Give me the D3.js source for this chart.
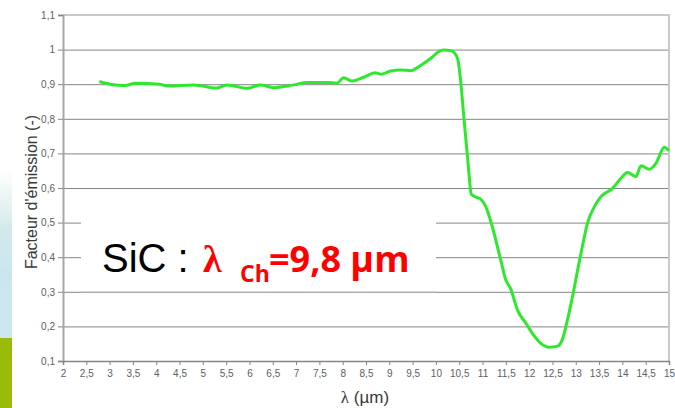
<!DOCTYPE html>
<html lang="fr">
<head>
  <meta charset="UTF-8">
  <title>SiC - facteur d'émission</title>
  <script src="https://cdn.jsdelivr.net/npm/d3@7/dist/d3.min.js"></script>
  <style>
    html, body { margin: 0; padding: 0; background: #fff; }
    svg { display: block; }
    .tick text { font-family: "Liberation Sans", Arial, sans-serif; font-size: 10px; fill: #606060; }
    .axis-title { font-family: "Liberation Sans", Arial, sans-serif; fill: #3a3a3a; }
  </style>
</head>
<body>
<svg width="675" height="408"></svg>
<script>
// courbe
const lambda = [2.78,3.01,3.33,3.55,4.08,4.23,4.80,5.30,5.52,5.95,6.23,6.52,6.95,7.24,7.67,7.88,8.02,8.20,8.45,8.70,8.81,9.03,9.24,9.46,9.67,9.89,10.10,10.17,10.32,10.40,10.47,10.53,10.60,10.69,10.76,10.89,10.96,11.07,11.21,11.39,11.50,11.60,11.75,11.93,12.07,12.25,12.43,12.61,12.71,12.82,12.93,13.04,13.14,13.25,13.40,13.54,13.79,13.97,14.11,14.29,14.40,14.58,14.72,14.90,15.0];
const emission = [0.908,0.900,0.896,0.903,0.900,0.895,0.898,0.889,0.898,0.888,0.898,0.890,0.898,0.905,0.905,0.903,0.919,0.909,0.920,0.933,0.929,0.938,0.941,0.939,0.954,0.975,0.997,0.999,0.997,0.990,0.972,0.910,0.803,0.671,0.582,0.572,0.568,0.546,0.488,0.392,0.334,0.310,0.247,0.209,0.180,0.151,0.140,0.143,0.161,0.218,0.286,0.363,0.430,0.498,0.546,0.575,0.599,0.628,0.645,0.633,0.664,0.654,0.671,0.718,0.708];

const xTicks = [2,2.5,3,3.5,4,4.5,5,5.5,6,6.5,7,7.5,8,8.5,9,9.5,10,10.5,11,11.5,12,12.5,13,13.5,14,14.5,15];
const xTickLabels = ["2","2,5","3","3,5","4","4,5","5","5,5","6","6,5","7","7,5","8","8,5","9","9,5","10","10,5","11","11,5","12","12,5","13","13,5","14","14,5","15"];
const yTicks = [0.1,0.2,0.3,0.4,0.5,0.6,0.7,0.8,0.9,1,1.1];
const yTickLabels = ["0,1","0,2","0,3","0,4","0,5","0,6","0,7","0,8","0,9","1","1,1"];

const svg = d3.select("svg");
const plotLeft = 63, plotRight = 669, plotTop = 15, plotBottom = 361;

const x = d3.scaleLinear().domain([2, 15]).range([plotLeft, plotRight]);
const y = d3.scaleLinear().domain([0.1, 1.1]).range([plotBottom, plotTop]);

// bandeau décoratif à gauche
const defs = svg.append("defs");
const grad = defs.append("linearGradient").attr("id", "bleu").attr("x1", 0).attr("y1", 0).attr("x2", 0).attr("y2", 1);
grad.append("stop").attr("offset", "0%").attr("stop-color", "#ffffff");
grad.append("stop").attr("offset", "35%").attr("stop-color", "#d4e9ea");
grad.append("stop").attr("offset", "60%").attr("stop-color", "#c9e6f0");
grad.append("stop").attr("offset", "100%").attr("stop-color", "#cde7f2");
svg.append("rect").attr("x", 0).attr("y", 170).attr("width", 12).attr("height", 168).attr("fill", "url(#bleu)");
svg.append("rect").attr("x", 0).attr("y", 338).attr("width", 12).attr("height", 70).attr("fill", "#9bbb0a");

// grille horizontale
svg.append("g")
  .attr("transform", `translate(${plotLeft},0)`)
  .call(d3.axisLeft(y).tickValues(yTicks.slice(0, -1)).tickSize(-(plotRight - plotLeft)).tickFormat(""))
  .call(g => g.select(".domain").remove())
  .call(g => g.selectAll(".tick line").attr("stroke", "#858585").attr("stroke-width", 1));

// cadre haut / droite
svg.append("path")
  .attr("d", `M${plotLeft},${y(1.1)}H${plotRight}V${plotBottom}`)
  .attr("fill", "none").attr("stroke", "#c9c9c9").attr("stroke-width", 2);

// axe Y
const yAxis = svg.append("g")
  .attr("transform", `translate(${plotLeft},0)`)
  .call(d3.axisLeft(y).tickValues(yTicks).tickSize(5).tickPadding(3)
    .tickFormat((d, i) => yTickLabels[i]));
yAxis.select(".domain").attr("stroke", "#a6a6a6").attr("stroke-width", 2);
yAxis.selectAll(".tick line").attr("stroke", "#858585");

// axe X
const xAxis = svg.append("g")
  .attr("transform", `translate(0,${plotBottom})`)
  .call(d3.axisBottom(x).tickValues(xTicks).tickSize(4).tickPadding(5)
    .tickFormat((d, i) => xTickLabels[i]));
xAxis.select(".domain").attr("stroke", "#858585").attr("stroke-width", 1.5);
xAxis.selectAll(".tick line").attr("stroke", "#858585");

// courbe
const pts = lambda.map((l, i) => [l, emission[i]]);
svg.append("path")
  .datum(pts)
  .attr("fill", "none")
  .attr("stroke", "#2ee82e")
  .attr("stroke-width", 3)
  .attr("stroke-linejoin", "round")
  .attr("d", d3.line().x(d => x(d[0])).y(d => y(d[1])).curve(d3.curveMonotoneX));

// titres des axes
svg.append("text")
  .attr("class", "axis-title")
  .attr("transform", "translate(37,192) rotate(-90)")
  .attr("text-anchor", "middle")
  .style("font-size", "16px")
  .text("Facteur d'émission (-)");

const xt = svg.append("text")
  .attr("class", "axis-title")
  .attr("x", 365).attr("y", 403)
  .attr("text-anchor", "middle")
  .style("font-size", "17px");
xt.append("tspan").style("font-family", "'Liberation Serif', serif").text("λ");
xt.append("tspan").text(" (µm)");

// encadré SiC
svg.append("rect").attr("x", 81).attr("y", 196).attr("width", 355).attr("height", 95).attr("fill", "#fff");
svg.append("line")
  .attr("x1", 81).attr("x2", 436).attr("y1", y(0.3)).attr("y2", y(0.3))
  .attr("stroke", "#cfcfcf");

const lab = svg.append("text").attr("y", 272);
lab.append("tspan").attr("x", 102)
  .style("font-family", "'Liberation Sans', Arial, sans-serif").style("font-size", "40px").attr("fill", "#000")
  .text("SiC :");
lab.append("tspan").attr("x", 203)
  .style("font-family", "'Liberation Serif', serif").style("font-size", "38px").style("font-weight", "bold").attr("fill", "#ff0000")
  .text("λ");
lab.append("tspan").attr("x", 240).attr("y", 282)
  .style("font-family", "'Open Sans', sans-serif").style("font-size", "23px").style("font-weight", "bold").attr("fill", "#ff0000")
  .text("Ch");
lab.append("tspan").attr("x", 269).attr("y", 272)
  .style("font-family", "'Open Sans', sans-serif").style("font-size", "36px").style("font-weight", "bold").attr("fill", "#ff0000")
  .text("=9,8 µm");
</script>
</body>
</html>
